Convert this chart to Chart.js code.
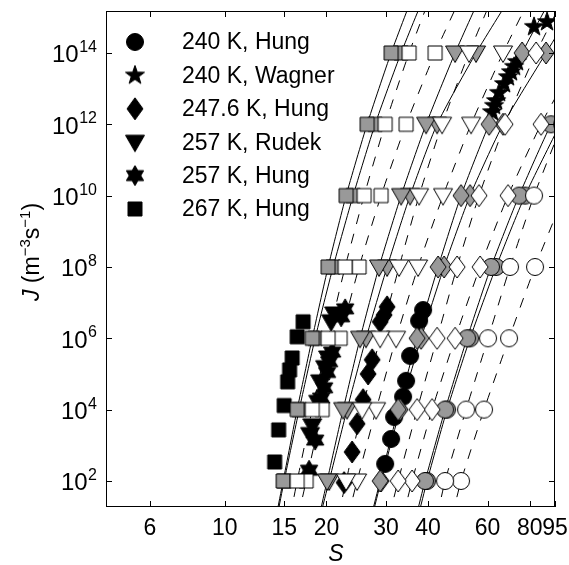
<!DOCTYPE html>
<html>
<head>
<meta charset="utf-8">
<script src="https://cdn.jsdelivr.net/npm/chart.js@4"></script>
<style>
  html, body { margin: 0; padding: 0; background: #fff; }
  canvas { display: block; }
</style>
</head>
<body>
<canvas id="nucChart" width="569" height="565"></canvas>
<script>
// axis setup
const X_MIN = 4.45, X_MAX = 95;
const Y_MIN = 18.6, Y_MAX = 1.5e15;
const X_TICKS = [6, 10, 15, 20, 30, 40, 60, 80, 95];
const Y_TICK_EXP = [2, 4, 6, 8, 10, 12, 14];

// model curves: S at each J level (first/last = where the curve leaves the frame)
const MODEL_J = [1e1, 1e2, 1e4, 1e6, 1e8, 1e10, 1e12, 1e14, 1e16];

const SQ_GRAY_A   = [14.19, 14.89, 16.38, 18.15, 20.23, 22.87, 26.39, 31.08, 37.36];
const SQ_GRAY_B   = [14.29, 14.99, 16.61, 18.52, 20.93, 23.99, 27.87, 33.27, 40.54];
const SQ_WHITE_A  = [15.62, 16.38, 18.15, 20.23, 22.72, 25.86, 29.84, 35.13, 42.23];
const SQ_WHITE_B  = [16.49, 17.42, 19.42, 21.96, 24.99, 29.03, 34.43, 41.95, 52.52];
const TRI_GRAY_A  = [19.03, 20.09, 22.41, 25.16, 28.63, 33.27, 39.45, 48.07, 59.79];
const TRI_GRAY_B  = [19.16, 20.37, 23.02, 26.20, 30.24, 35.37, 42.52, 55.46, 74.86];
const TRI_WHITE_A = [21.66, 22.87, 25.51, 28.84, 32.82, 37.61, 43.99, 52.88, 64.88];
const TRI_WHITE_B = [23.18, 24.65, 28.06, 32.16, 37.36, 44.29, 53.61, 66.67, 84.63];
const DIA_GRAY_A  = [27.12, 28.84, 32.61, 37.11, 42.81, 50.07, 60.61, 75.90, 98.3];
const DIA_GRAY_B  = [27.31, 29.03, 33.04, 38.13, 44.60, 53.25, 66.67, 89.37, 120];
const DIA_WHITE_A = [30.66, 32.61, 37.11, 42.52, 48.73, 56.61, 67.58, 83.51, 106.7];
const DIA_WHITE_B = [33.73, 35.86, 41.10, 48.07, 57.00, 68.98, 86.38, 112.7];
const CIR_GRAY_A  = [36.85, 39.18, 44.91, 52.17, 61.43, 74.36, 92.47, 120.6];
const CIR_GRAY_B  = [37.36, 39.72, 45.52, 53.25, 63.57, 77.45, 98.3];
const CIR_WHITE_A = [42.52, 44.91, 51.81, 60.19, 69.92, 82.36, 99.7];
const CIR_WHITE_B = [47.10, 50.07, 58.57, 69.45, 82.92, 101.0];

// measurements
const S_240_HUNG = [38.66, 37.61, 35.37, 34.43, 33.73, 31.72, 31.08, 29.84];
const J_240_HUNG = [6.2e6, 3.1e6, 3.2e5, 6.4e4, 2.3e4, 6.2e3, 1.5e3, 3.0e2];
const S_240_WAGNER = [82.36, 89.98, 73.35, 71.87, 70.41, 68.98, 67.13, 64.88, 63.57, 62.71, 61.86];
const J_240_WAGNER = [5.4e14, 7.4e14, 5.6e13, 4.1e13, 2.9e13, 2.1e13, 1.35e13, 7.6e12, 4.5e12, 3.3e12, 2.2e12];
const S_248_HUNG = [30.24, 29.63, 28.84, 27.31, 26.57, 25.68, 24.65, 23.82, 22.56];
const J_248_HUNG = [7.6e6, 4.5e6, 2.9e6, 2.5e5, 1.0e5, 1.9e4, 4.0e3, 6.5e2, 90];
const S_257_RUDEK = [21.08, 20.65, 20.23, 19.82, 19.16, 18.90, 18.15, 17.89];
const J_257_RUDEK = [4.8e6, 2.9e6, 2.8e5, 1.5e5, 6.0e4, 1.6e4, 3.5e3, 2.0e3];
const S_257_HUNG = [22.72, 22.11, 20.79, 20.37, 20.09, 19.69, 19.29, 18.52, 17.77];
const J_257_HUNG = [6.7e6, 4.0e6, 4.1e5, 2.2e5, 1.1e5, 4.1e4, 2.1e4, 1.4e3, 2.0e2];
const S_267_HUNG = [17.06, 16.38, 15.83, 15.56, 15.35, 14.99, 14.44, 14.05];
const J_267_HUNG = [2.9e6, 1.1e6, 2.8e5, 1.3e5, 6.0e4, 1.3e4, 2.7e3, 3.4e2];

const LEGEND_LABELS = ['240 K, Hung', '240 K, Wagner', '247.6 K, Hung', '257 K, Rudek', '257 K, Hung', '267 K, Hung'];

const GRAY = '#999999';
const FONT = '"Liberation Sans", Arial, Helvetica, sans-serif';

function markerCanvas(shape, fill) {
  const n = 28;
  const c = document.createElement('canvas');
  c.width = n; c.height = n;
  const g = c.getContext('2d');
  const m = n / 2;
  g.beginPath();
  if (shape === 'circle') {
    g.arc(m, m, 8.5, 0, Math.PI * 2);
  } else if (shape === 'square') {
    g.rect(m - 7, m - 7, 14, 14);
  } else if (shape === 'triangle') {
    g.moveTo(m - 9.5, m - 7);
    g.lineTo(m + 9.5, m - 7);
    g.lineTo(m, m + 9.5);
    g.closePath();
  } else if (shape === 'diamond') {
    g.moveTo(m, m - 11);
    g.lineTo(m + 8, m);
    g.lineTo(m, m + 11);
    g.lineTo(m - 8, m);
    g.closePath();
  } else {
    let k = shape === 'star5' ? 5 : 6;
    let ro = 10;
    let ri = shape === 'star5' ? ro * 0.40 : ro * 0.577;
    for (let i = 0; i < 2 * k; i++) {
      let r = i % 2 ? ri : ro;
      let a = -Math.PI / 2 + i * Math.PI / k;
      let px = m + r * Math.cos(a), py = m + r * Math.sin(a);
      if (i) g.lineTo(px, py); else g.moveTo(px, py);
    }
    g.closePath();
  }
  g.fillStyle = fill;
  g.fill();
  g.lineWidth = 1;
  g.strokeStyle = '#000';
  g.stroke();
  return c;
}

const models = [
  [SQ_GRAY_A, 'square', GRAY], [SQ_GRAY_B, 'square', GRAY],
  [SQ_WHITE_A, 'square', '#fff'], [SQ_WHITE_B, 'square', '#fff'],
  [TRI_GRAY_A, 'triangle', GRAY], [TRI_GRAY_B, 'triangle', GRAY],
  [TRI_WHITE_A, 'triangle', '#fff'], [TRI_WHITE_B, 'triangle', '#fff'],
  [DIA_GRAY_A, 'diamond', GRAY], [DIA_GRAY_B, 'diamond', GRAY],
  [DIA_WHITE_A, 'diamond', '#fff'], [DIA_WHITE_B, 'diamond', '#fff'],
  [CIR_GRAY_A, 'circle', GRAY], [CIR_GRAY_B, 'circle', GRAY],
  [CIR_WHITE_A, 'circle', '#fff'], [CIR_WHITE_B, 'circle', '#fff']
];

const measured = [
  [S_240_HUNG, J_240_HUNG, 'circle'],
  [S_240_WAGNER, J_240_WAGNER, 'star5'],
  [S_248_HUNG, J_248_HUNG, 'diamond'],
  [S_257_RUDEK, J_257_RUDEK, 'triangle'],
  [S_257_HUNG, J_257_HUNG, 'star6'],
  [S_267_HUNG, J_267_HUNG, 'square']
];

let datasets = [];

models.forEach(function (m) {
  let s = m[0];
  let isGray = m[2] === GRAY;
  datasets.push({
    data: s.map((v, i) => ({ x: v, y: MODEL_J[i] })),
    showLine: true,
    borderColor: '#000',
    borderWidth: 1,
    borderDash: isGray ? [] : [10, 10],
    pointRadius: 0,
    tension: 0.2,
    clip: 0,
    order: 40
  });
  datasets.push({
    data: s.slice(1, 8).map((v, i) => ({ x: v, y: MODEL_J[i + 1] })),
    showLine: false,
    pointStyle: markerCanvas(m[1], m[2]),
    pointRadius: 8,
    clip: 0,
    order: isGray ? 20 : 10
  });
});

let legendMarkers = [];
measured.forEach(function (m) {
  let mk = markerCanvas(m[2], '#000');
  legendMarkers.push(mk);
  datasets.push({
    data: m[0].map((v, i) => ({ x: v, y: m[1][i] })),
    showLine: false,
    pointStyle: mk,
    pointRadius: 8,
    clip: 0,
    order: 30
  });
});

const frame = {
  id: 'frame',
  afterDraw(chart) {
    const ctx = chart.ctx;
    const a = chart.chartArea;
    const x = chart.scales.x, y = chart.scales.y;
    ctx.save();
    ctx.strokeStyle = '#000';
    ctx.lineWidth = 1;
    ctx.strokeRect(a.left + 0.5, a.top + 0.5, a.right - a.left - 1, a.bottom - a.top - 1);
    ctx.beginPath();
    X_TICKS.forEach(function (v) {
      let px = Math.round(x.getPixelForValue(v)) + 0.5;
      ctx.moveTo(px, a.bottom); ctx.lineTo(px, a.bottom - 6);
      ctx.moveTo(px, a.top); ctx.lineTo(px, a.top + 6);
    });
    Y_TICK_EXP.forEach(function (e) {
      let py = Math.round(y.getPixelForValue(Math.pow(10, e))) + 0.5;
      ctx.moveTo(a.left, py); ctx.lineTo(a.left + 6, py);
      ctx.moveTo(a.right, py); ctx.lineTo(a.right - 6, py);
    });
    ctx.stroke();

    ctx.fillStyle = '#000';
    // x tick labels
    ctx.font = '23px ' + FONT;
    ctx.textAlign = 'center';
    ctx.textBaseline = 'alphabetic';
    X_TICKS.forEach(function (v) {
      ctx.fillText(String(v), x.getPixelForValue(v), 535);
    });
    // y tick labels 10^n
    Y_TICK_EXP.forEach(function (e) {
      let py = y.getPixelForValue(Math.pow(10, e));
      ctx.textAlign = 'right';
      ctx.font = '16px ' + FONT;
      let sup = String(e);
      let sw = ctx.measureText(sup).width;
      ctx.fillText(sup, 97, py - 1);
      ctx.font = '24px ' + FONT;
      ctx.fillText('10', 97 - sw - 0.5, py + 9.5);
    });
    // axis titles
    ctx.textAlign = 'center';
    ctx.font = 'italic 23px ' + FONT;
    ctx.fillText('S', 336, 561);

    ctx.save();
    ctx.translate(31, 252);
    ctx.rotate(-Math.PI / 2);
    let parts = [
      ['J', 'italic 23px ', 0], [' (m', '23px ', 0], ['\u22123', '15px ', -9],
      ['s', '23px ', 0], ['\u22121', '15px ', -9], [')', '23px ', 0]
    ];
    let total = 0;
    parts.forEach(function (p) { ctx.font = p[1] + FONT; total += ctx.measureText(p[0]).width; });
    let cx = -total / 2;
    ctx.textAlign = 'left';
    parts.forEach(function (p) {
      ctx.font = p[1] + FONT;
      ctx.fillText(p[0], cx, 8 + p[2]);
      cx += ctx.measureText(p[0]).width;
    });
    ctx.restore();

    // legend
    ctx.font = '23px ' + FONT;
    ctx.textAlign = 'left';
    ctx.textBaseline = 'middle';
    LEGEND_LABELS.forEach(function (lab, i) {
      let ry = 42 + i * 33.4;
      let mk = legendMarkers[i];
      ctx.drawImage(mk, 135 - mk.width / 2, ry - mk.height / 2);
      ctx.fillText(lab, 182, ry + 1);
    });
    ctx.restore();
  }
};

new Chart('nucChart', {
  type: 'scatter',
  data: { datasets: datasets },
  options: {
    responsive: false,
    animation: false,
    devicePixelRatio: 1,
    layout: { padding: { left: 106, right: 14, top: 11, bottom: 58 } },
    plugins: { legend: { display: false }, tooltip: { enabled: false } },
    scales: {
      x: { type: 'logarithmic', min: X_MIN, max: X_MAX, display: false },
      y: { type: 'logarithmic', min: Y_MIN, max: Y_MAX, display: false }
    }
  },
  plugins: [frame]
});
</script>
</body>
</html>
